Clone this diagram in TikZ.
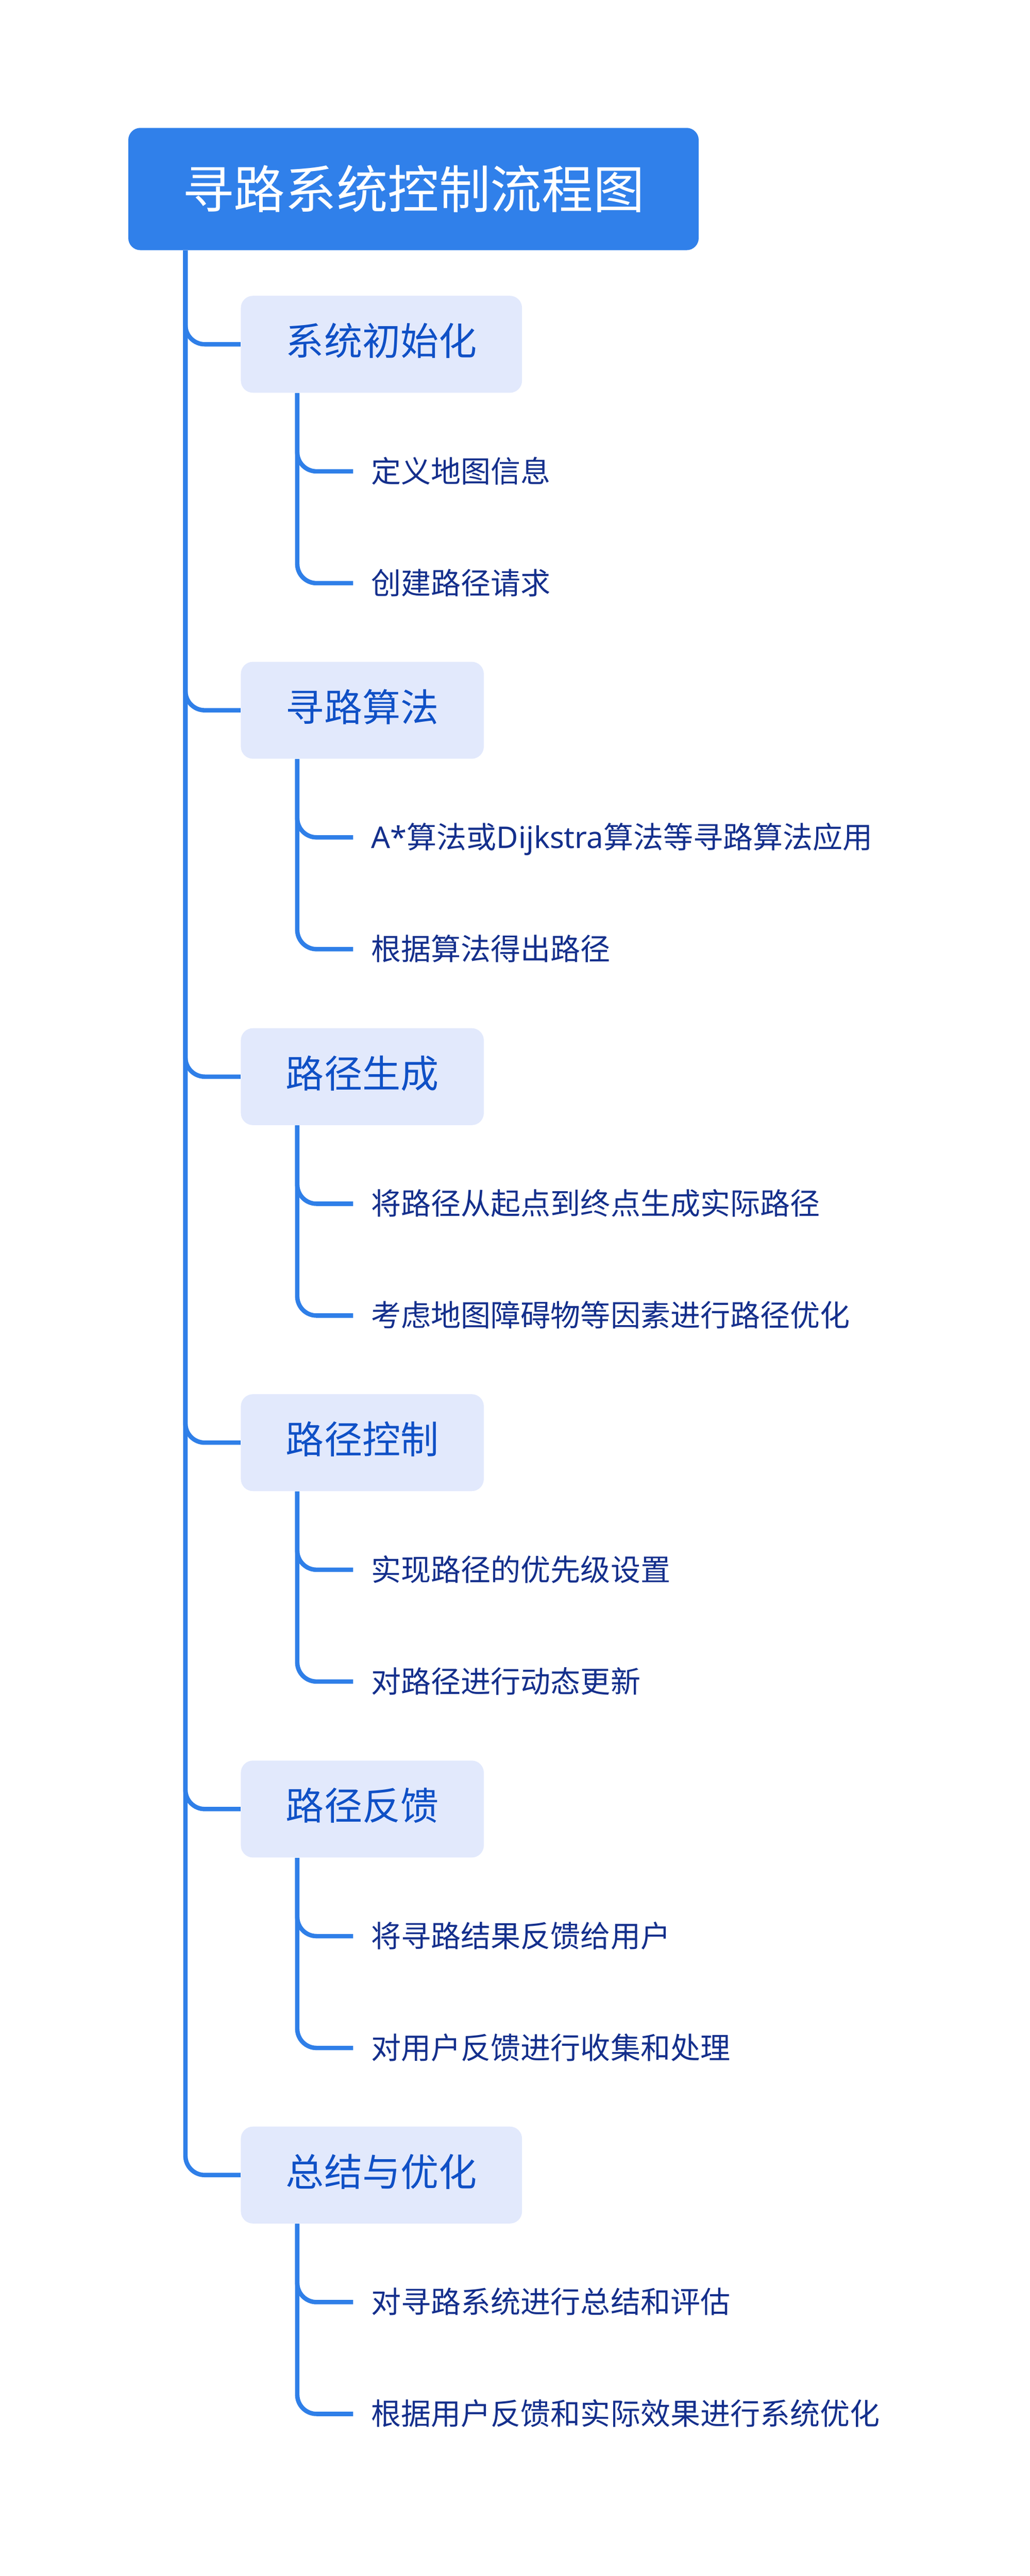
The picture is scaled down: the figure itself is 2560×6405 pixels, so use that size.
\documentclass[tikz,border=0pt]{standalone}
\usepackage{fontspec}
\setmainfont{Noto Sans CJK SC}
\newfontfamily\latinfont{Noto Sans}
\usepackage{tikz}
\definecolor{rootblue}{HTML}{3080EA}
\definecolor{linkblue}{HTML}{2F7FE8}
\definecolor{boxfill}{HTML}{E2E9FC}
\definecolor{boxtext}{HTML}{0F50C6}
\definecolor{leaftext}{HTML}{142F8C}

\begin{document}
\begin{tikzpicture}[
                x=0.25pt, y=-0.25pt,
                root/.style={fill=rootblue, rounded corners=7.5pt, minimum width=354.5pt, minimum height=76pt, inner sep=0pt, text=white, font=\fontsize{31.9pt}{38pt}\selectfont},
                topic/.style={anchor=west, fill=boxfill, rounded corners=7.5pt, minimum height=60.25pt, inner xsep=28pt, inner ysep=0pt, text=boxtext, font=\fontsize{23.75pt}{28pt}\selectfont, text height=1.45em, text depth=0.08em},
                leaf/.style={anchor=west, inner xsep=11pt, inner ysep=0pt, text=leaftext, font=\fontsize{18.6pt}{22pt}\selectfont, text height=1.45em, text depth=0.08em},
                link/.style={draw=linkblue, line width=2.75pt, rounded corners=12pt}
            ]
            \useasboundingbox (0, 0) rectangle (2560, 6405);
            \coordinate (trunk) at (461, 0);
            \coordinate (spine) at (739, 0);
            \node[root] (title) at (1028, 470) {寻路系统控制流程图};
            % first level
            \node[topic] (init) at (598, 856) {系统初始化};
            \node[topic] (algo) at (598, 1766) {寻路算法};
            \node[topic] (gen) at (598, 2677) {路径生成};
            \node[topic] (ctrl) at (598, 3587) {路径控制};
            \node[topic] (fb) at (598, 4498) {路径反馈};
            \node[topic] (sum) at (598, 5408) {总结与优化};
            % second level
            \node[leaf] (init1) at (878, 1172) {定义地图信息};
            \node[leaf] (init2) at (878, 1450) {创建路径请求};
            \node[leaf] (algo1) at (878, 2082) {{\latinfont A*}算法或{\latinfont Dijkstra}算法等寻路算法应用};
            \node[leaf] (algo2) at (878, 2360) {根据算法得出路径};
            \node[leaf] (gen1) at (878, 2993) {将路径从起点到终点生成实际路径};
            \node[leaf] (gen2) at (878, 3271) {考虑地图障碍物等因素进行路径优化};
            \node[leaf] (ctrl1) at (878, 3903) {实现路径的优先级设置};
            \node[leaf] (ctrl2) at (878, 4181) {对路径进行动态更新};
            \node[leaf] (fb1) at (878, 4814) {将寻路结果反馈给用户};
            \node[leaf] (fb2) at (878, 5092) {对用户反馈进行收集和处理};
            \node[leaf] (sum1) at (878, 5724) {对寻路系统进行总结和评估};
            \node[leaf] (sum2) at (878, 6002) {根据用户反馈和实际效果进行系统优化};
            % links
            \draw[link] (title.south -| trunk) |- (init.west);
            \draw[link] (title.south -| trunk) |- (algo.west);
            \draw[link] (title.south -| trunk) |- (gen.west);
            \draw[link] (title.south -| trunk) |- (ctrl.west);
            \draw[link] (title.south -| trunk) |- (fb.west);
            \draw[link] (title.south -| trunk) |- (sum.west);
            \draw[link] (init.south -| spine) |- (init1.west);
            \draw[link] (init.south -| spine) |- (init2.west);
            \draw[link] (algo.south -| spine) |- (algo1.west);
            \draw[link] (algo.south -| spine) |- (algo2.west);
            \draw[link] (gen.south -| spine) |- (gen1.west);
            \draw[link] (gen.south -| spine) |- (gen2.west);
            \draw[link] (ctrl.south -| spine) |- (ctrl1.west);
            \draw[link] (ctrl.south -| spine) |- (ctrl2.west);
            \draw[link] (fb.south -| spine) |- (fb1.west);
            \draw[link] (fb.south -| spine) |- (fb2.west);
            \draw[link] (sum.south -| spine) |- (sum1.west);
            \draw[link] (sum.south -| spine) |- (sum2.west);
        \end{tikzpicture}
\end{document}
